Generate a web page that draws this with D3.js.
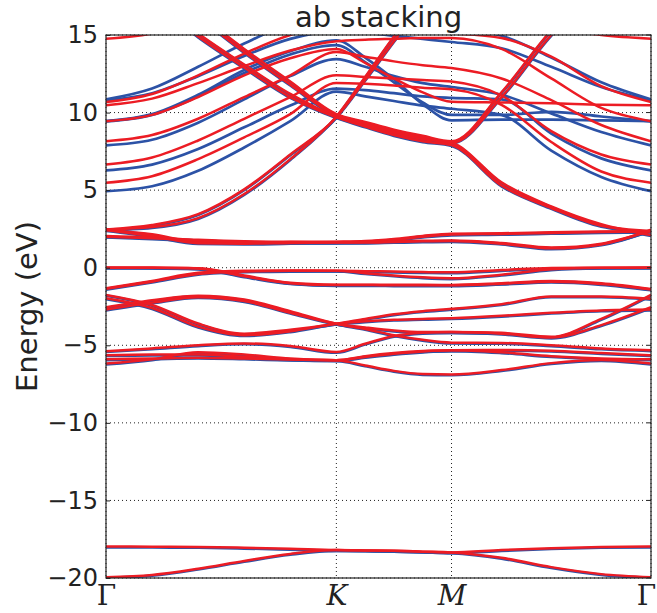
<!DOCTYPE html>
<html><head><meta charset="utf-8">
<script src="https://cdn.jsdelivr.net/npm/d3@7"></script>
<style>body{margin:0;background:#fff}svg{display:block}</style>
</head><body><svg id="chart" width="657" height="613"></svg>
<script>
// ---- data ----
const kPath = [0, 0.2, 0.4, 0.6, 0.8, 1.0, 1.125, 1.25, 1.375, 1.5, 1.717, 1.933, 2.15, 2.366];
const kTickPos = [0, 1.0, 1.5, 2.366];
const kTickLabels = ["Γ", "K", "M", "Γ"];
const yTicks = [15, 10, 5, 0, -5, -10, -15, -20];
const titleText = "ab stacking";
const yLabel = "Energy (eV)";

// bands common to both calculations (blue underneath, red on top)
const sharedBands = [
  [-19.95,-19.8,-19.4,-18.9,-18.45,-18.2,-18.22,-18.25,-18.3,-18.35,-18.7,-19.3,-19.75,-19.95],
  [-17.97,-17.98,-18.0,-18.05,-18.12,-18.2,-18.22,-18.25,-18.3,-18.35,-18.2,-18.08,-18.0,-17.97],
  [-5.9,-5.85,-5.8,-5.85,-5.92,-5.96,-6.3,-6.65,-6.85,-6.88,-6.6,-6.15,-5.95,-6.18],
  [-6.18,-5.9,-5.45,-5.6,-5.85,-5.96,-5.75,-5.55,-5.4,-5.32,-5.45,-5.7,-5.85,-5.9],
  [-5.64,-5.6,-5.6,-5.75,-5.9,-5.96,-5.7,-5.5,-5.37,-5.32,-5.3,-5.35,-5.5,-5.64],
  [-5.38,-5.2,-5.0,-4.88,-5.05,-5.43,-4.9,-4.4,-4.2,-4.15,-4.2,-4.45,-3.3,-1.75],
  [-1.75,-2.4,-3.6,-4.25,-4.0,-3.61,-3.3,-3.0,-2.8,-2.65,-2.35,-1.85,-1.85,-2.0],
  [-1.97,-2.6,-3.8,-4.35,-4.1,-3.61,-3.45,-3.35,-3.3,-3.25,-3.1,-2.9,-2.75,-2.7],
  [-2.55,-2.1,-1.8,-2.05,-2.8,-3.61,-3.95,-4.35,-4.65,-4.83,-4.85,-5.0,-5.2,-5.32],
  [-2.7,-2.25,-1.9,-2.15,-2.9,-3.61,-3.85,-4.05,-4.15,-4.15,-4.25,-4.5,-3.7,-2.55],
  [0.0,0.0,-0.03,-0.5,-0.97,-1.09,-1.1,-1.1,-1.1,-1.11,-1.0,-0.85,-1.0,-1.37],
  [0.02,0.01,-0.05,-0.55,-1.0,-1.12,-1.12,-1.13,-1.13,-1.13,-1.03,-0.9,-1.05,-1.4],
  [-1.32,-0.85,-0.33,-0.2,-0.18,-0.19,-0.22,-0.25,-0.28,-0.3,-0.15,-0.02,0.0,0.0],
  [-1.36,-0.9,-0.4,-0.24,-0.2,-0.19,-0.35,-0.5,-0.62,-0.68,-0.45,-0.1,0.0,0.02],
  [2.47,2.15,1.65,1.6,1.65,1.68,1.72,1.85,2.05,2.19,2.22,2.28,2.33,2.36],
  [2.42,2.05,1.58,1.55,1.6,1.64,1.68,1.8,2.0,2.14,2.18,2.24,2.3,2.33],
  [2.04,1.95,1.8,1.7,1.67,1.65,1.65,1.7,1.74,1.76,1.6,1.3,1.55,2.4],
  [2.0,1.9,1.76,1.66,1.63,1.62,1.62,1.66,1.7,1.72,1.55,1.25,1.5,2.45],
  [2.47,2.75,3.45,5.05,7.3,9.7,12.1,14.6,17.0,19.0,20.0,20.5,20.5,20.5],
  [2.47,2.62,3.2,4.75,7.0,9.75,12.3,14.9,17.3,19.2,20.2,20.7,20.7,20.7],
  [19.0,17.2,14.9,12.9,11.0,9.7,9.1,8.55,8.15,7.9,5.3,3.85,2.7,2.36],
  [19.2,17.4,15.1,13.1,11.2,9.75,9.2,8.7,8.3,8.05,5.5,3.95,2.8,2.1],
  [20.5,18.6,16.2,13.9,11.8,9.8,9.3,8.8,8.4,8.05,11.0,15.0,18.0,19.5],
  [20.7,18.8,16.4,14.1,12.0,9.9,9.4,8.9,8.5,8.15,11.3,15.3,18.3,19.7]
];

// bands only in the blue calculation
const blueBands = [
  [4.98,5.3,6.3,7.8,9.5,11.4,11.1,10.8,10.5,10.3,9.9,7.6,5.9,4.98],
  [6.33,6.7,7.7,9.1,10.5,11.6,11.5,11.3,11.1,11.0,10.9,8.7,7.1,6.33],
  [7.94,8.3,9.4,10.9,12.4,13.5,13.0,12.4,11.95,11.7,11.2,10.0,8.8,7.94],
  [9.48,9.9,11.1,12.6,13.8,14.4,13.3,12.0,10.7,9.9,9.9,10.1,9.8,9.48],
  [9.5,9.95,11.2,12.8,14.0,14.7,13.6,12.2,10.6,9.55,9.6,9.6,9.55,9.5],
  [10.84,11.3,12.4,13.7,14.8,15.3,15.2,15.0,14.8,14.6,14.2,13.0,11.7,10.84],
  [10.9,11.6,13.0,14.5,15.8,16.5,16.3,16.0,15.7,15.5,15.0,13.6,12.0,10.9]
];

// bands only in the red calculation
const redBands = [
  [5.48,5.9,7.0,8.4,9.9,11.9,11.85,11.75,11.6,11.5,10.5,8.1,6.2,5.48],
  [6.65,7.1,8.2,9.6,11.0,12.4,12.3,12.2,12.1,12.0,11.1,8.8,7.3,6.65],
  [8.15,8.55,9.6,11.0,12.4,13.9,13.6,13.3,13.05,12.87,12.2,10.8,9.2,8.15],
  [9.44,9.85,11.0,12.4,13.5,14.1,13.2,12.2,11.3,10.7,10.65,10.6,10.5,10.47],
  [10.47,10.9,11.9,13.0,14.0,14.6,14.7,14.75,14.8,14.8,14.1,12.2,10.3,9.44],
  [10.68,11.2,12.4,13.8,15.0,15.6,15.5,15.3,15.2,15.1,14.8,13.6,11.7,10.68],
  [14.76,15.1,16.0,17.0,17.5,17.6,17.4,17.2,17.0,16.9,16.4,15.5,15.0,14.76]
];

// ---- drawing ----
const W = 657, H = 613;
const margin = {left: 106, right: 6, top: 35, bottom: 35};
const svg = d3.select("#chart");
const x = d3.scaleLinear().domain([0, 2.366]).range([margin.left, W - margin.right]);
const y = d3.scaleLinear().domain([-20, 15]).range([H - margin.bottom, margin.top]);
const BLUE = "#2c52a6", RED = "#ec1c24";
const FONT = "DejaVu Sans, sans-serif";

svg.append("defs").append("clipPath").attr("id", "clip")
  .append("rect").attr("x", x(0)).attr("y", y(15))
  .attr("width", x(2.366) - x(0)).attr("height", y(-20) - y(15));

// grid
const grid = svg.append("g");
grid.selectAll("line.h").data(yTicks).join("line")
  .attr("x1", x(0)).attr("x2", x(2.366)).attr("y1", d => y(d)).attr("y2", d => y(d))
  .attr("stroke", "#222").attr("stroke-width", 1).attr("stroke-dasharray", "1,3");
grid.selectAll("line.v").data(kTickPos).join("line")
  .attr("y1", y(15)).attr("y2", y(-20)).attr("x1", d => x(d)).attr("x2", d => x(d))
  .attr("stroke", "#222").attr("stroke-width", 1).attr("stroke-dasharray", "1,3");

const line = d3.line().x((d, i) => x(kPath[i])).y(d => y(d)).curve(d3.curveMonotoneX);
const plot = svg.append("g").attr("clip-path", "url(#clip)");

const blueAll = sharedBands.concat(blueBands);
plot.append("g").attr("transform", "translate(0,0.8)").selectAll("path").data(blueAll).join("path")
  .attr("d", line).attr("fill", "none").attr("stroke", BLUE).attr("stroke-width", 2.7);
const redAll = sharedBands.concat(redBands);
plot.append("g").selectAll("path").data(redAll).join("path")
  .attr("d", line).attr("fill", "none").attr("stroke", RED).attr("stroke-width", 2.5);

// frame
svg.append("rect").attr("x", x(0)).attr("y", y(15))
  .attr("width", x(2.366) - x(0)).attr("height", y(-20) - y(15))
  .attr("fill", "none").attr("stroke", "#222").attr("stroke-width", 1.2);

// y axis
const yAxis = d3.axisLeft(y).tickValues(yTicks).tickSize(-4).tickPadding(8)
  .tickFormat(d => d < 0 ? "\u2212" + Math.abs(d) : String(d));
const gy = svg.append("g").attr("transform", `translate(${x(0)},0)`).call(yAxis);
gy.select(".domain").remove();
gy.selectAll(".tick line").attr("stroke", "#222");
gy.selectAll(".tick text").attr("font-family", FONT).attr("font-size", 24).attr("fill", "#222");
// right-side ticks
svg.append("g").selectAll("line").data(yTicks).join("line")
  .attr("x1", x(2.366)).attr("x2", x(2.366) - 4).attr("y1", d => y(d)).attr("y2", d => y(d))
  .attr("stroke", "#222");

// x axis
const xAxis = d3.axisBottom(x).tickValues(kTickPos).tickSize(0).tickPadding(7)
  .tickFormat((d, i) => kTickLabels[i]);
const gx = svg.append("g").attr("transform", `translate(0,${y(-20)})`).call(xAxis);
gx.select(".domain").remove();
gx.selectAll(".tick text")
  .attr("font-family", "DejaVu Serif, serif").attr("font-size", 28).attr("fill", "#222")
  .attr("font-style", (d, i) => kTickLabels[i] === "Γ" ? "normal" : "italic")
  .attr("dx", (d, i) => i === kTickLabels.length - 1 ? -5 : 0);

// title & label
svg.append("text").attr("x", (x(0) + x(2.366)) / 2).attr("y", 27)
  .attr("text-anchor", "middle").attr("font-family", FONT).attr("font-size", 29)
  .attr("fill", "#222").text(titleText);
svg.append("text").attr("transform", `translate(37,${(y(15) + y(-20)) / 2}) rotate(-90)`)
  .attr("text-anchor", "middle").attr("font-family", FONT).attr("font-size", 29)
  .attr("fill", "#222").text(yLabel);
</script></body></html>
